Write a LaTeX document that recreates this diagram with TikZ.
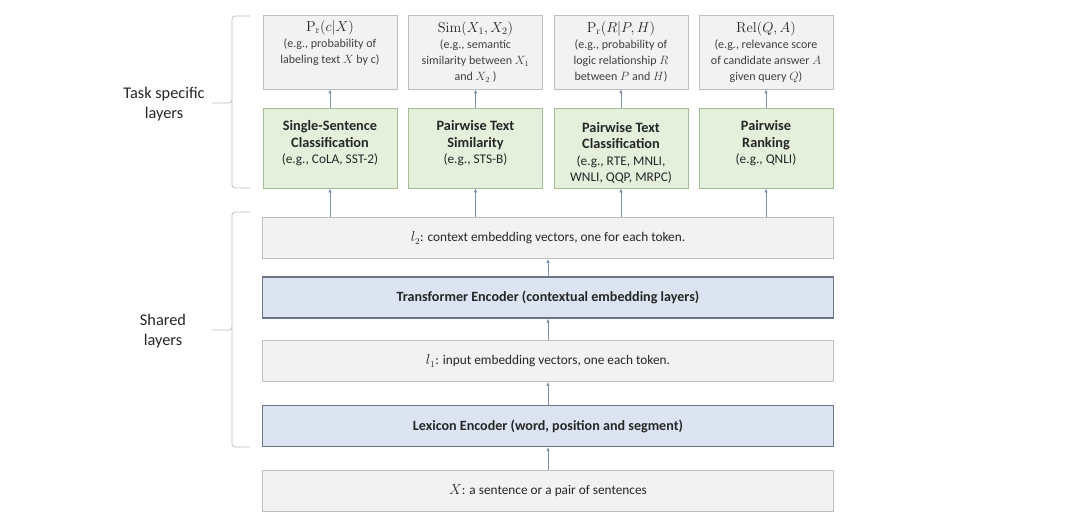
\documentclass[tikz,border=0pt]{standalone}
\usepackage{amsmath}
\usepackage[no-math]{fontspec}
\setmainfont{Carlito}
\usetikzlibrary{arrows.meta,positioning}

\definecolor{boxgray}{HTML}{F2F2F2}
\definecolor{linegray}{HTML}{BFBFBF}
\definecolor{boxgreen}{HTML}{E4F0DC}
\definecolor{linegreen}{HTML}{A3BE94}
\definecolor{boxblue}{HTML}{DCE4F2}
\definecolor{lineblue}{HTML}{6B7585}
\definecolor{arrblue}{HTML}{7F91A8}
\definecolor{txtgray}{HTML}{404040}
\newcommand\dsc{\fontsize{12}{14.5}\selectfont\color{txtgray}}
\newcommand\egs{\fontsize{13.3}{16.5}\selectfont}
\newcommand\ttl{\fontsize{14}{16}\selectfont}
\newcommand\tpad{\rule{0pt}{19.5pt}}

\begin{document}
\begin{tikzpicture}[x=1pt,y=-1pt,
  every node/.style={font=\fontsize{13.3}{16}\selectfont,text=black!85},
  outbox/.style={draw=linegray,fill=boxgray,minimum width=134pt,minimum height=74pt,
              align=center,inner sep=1pt,line width=0.8pt},
  taskbox/.style={draw=linegreen,fill=boxgreen,minimum width=134pt,minimum height=80pt,
              align=center,inner sep=1pt,line width=0.8pt,
              font=\fontsize{14.3}{16.5}\selectfont},
  widebox/.style={draw=linegray,fill=boxgray,minimum width=571pt,minimum height=41pt,
              align=center,line width=0.8pt},
  encbox/.style={widebox,draw=lineblue,fill=boxblue,line width=1.2pt,
              font=\fontsize{14.1}{16}\selectfont\bfseries},
  arr/.style={-{Latex[length=4pt,width=3.5pt]},draw=arrblue,line width=0.7pt},
  brace/.style={draw=linegray,line width=0.8pt,rounded corners=3pt},
  side/.style={align=center,font=\fontsize{16.3}{20}\selectfont}
]
\useasboundingbox (0,0) rectangle (1080,532);

% output boxes
\node[outbox] (P1) at (330,52)
 {{\ttl $\mathrm{P_r}(c|X)$}\\{\dsc (e.g., probability of}\\{\dsc labeling text $X$ by c)}\\{\dsc\strut}};
\node[outbox] (P2) at (475.5,52)
 {{\ttl $\mathrm{Sim}(X_1,X_2)$}\\{\dsc (e.g., semantic}\\{\dsc similarity between $X_1$}\\{\dsc and $X_2$ )}};
\node[outbox] (P3) at (621,52)
 {{\ttl $\mathrm{P_r}(R|P,H)$}\\{\dsc (e.g., probability of}\\{\dsc logic relationship $R$}\\{\dsc between $P$ and $H$)}};
\node[outbox] (P4) at (766,52)
 {{\ttl $\mathrm{Rel}(Q,A)$}\\{\dsc (e.g., relevance score}\\{\dsc of candidate answer $A$}\\{\dsc given query $Q$)}};

% task specific layers
\node[taskbox] (T1) at (330,148)
 {\tpad\textbf{Single-Sentence}\\\textbf{Classification}\\{\egs (e.g., CoLA, SST-2)}\\{\egs\strut}};
\node[taskbox] (T2) at (475.5,148)
 {\tpad\textbf{Pairwise Text}\\\textbf{Similarity}\\{\egs (e.g., STS-B)}\\{\egs\strut}};
\node[taskbox] (T3) at (621,148)
 {\tpad\textbf{Pairwise Text}\\\textbf{Classification}\\{\egs (e.g., RTE, MNLI,}\\{\egs WNLI, QQP, MRPC)}};
\node[taskbox] (T4) at (766,148)
 {\tpad\textbf{Pairwise}\\\textbf{Ranking}\\{\egs (e.g., QNLI)}\\{\egs\strut}};

% shared layers
\node[widebox] (L2) at (548,238) {$l_2$: context embedding vectors, one for each token.};
\node[encbox] (TE) at (548,297.5) {Transformer Encoder (contextual embedding layers)};
\node[widebox] (L1) at (548,361) {$l_1$: input embedding vectors, one each token.};
\node[encbox] (LE) at (548,426) {Lexicon Encoder (word, position and segment)};
\node[widebox] (X) at (548,491) {$X$: a sentence or a pair of sentences};

\foreach \i in {1,...,4}{
  \draw[arr] (T\i) -- (P\i);
  \draw[arr] (L2.north -| T\i) -- (T\i);
}
\draw[arr] (TE) -- (L2);
\draw[arr] (L1) -- (TE);
\draw[arr] (LE) -- (L1);
\draw[arr] (X) -- (LE);

% braces
\draw[brace] (250,16) -- (232,16) -- (232,103) -- (212,103);
\draw[brace] (232,100) -- (232,188) -- (250,188);
\draw[brace] (250,212) -- (232,212) -- (232,330) -- (212,330);
\draw[brace] (232,327) -- (232,447) -- (250,447);
\node[side] (tsl) at (164,104) {Task specific\\layers};
\node[side] (shl) at (163,331) {Shared\\layers};
\end{tikzpicture}
\end{document}
